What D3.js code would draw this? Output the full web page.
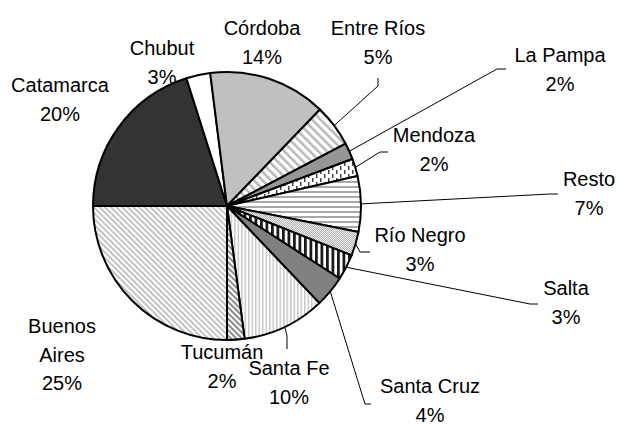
<!DOCTYPE html>
<html>
<head>
<meta charset="utf-8">
<script src="https://cdn.jsdelivr.net/npm/d3@7"></script>
<style>
  html, body { margin: 0; padding: 0; background: #fff; }
  svg text { font-family: "Liberation Sans", Arial, sans-serif; font-size: 20px; fill: #000; }
</style>
</head>
<body>
<div id="chart"></div>
<script>
// provinces, in the order the slices run (clockwise, starting at 6 o'clock)
var categories = ["Buenos Aires", "Catamarca", "Chubut", "Córdoba", "Entre Ríos", "La Pampa",
  "Mendoza", "Resto", "Río Negro", "Salta", "Santa Cruz", "Santa Fe", "Tucumán"];
// share of each slice (%)
var values = [25.0, 20.1, 2.9, 14.2, 5.1, 2.0, 2.1, 6.7, 2.9, 3.1, 3.8, 10.0, 2.1];

var width = 619, height = 425;
var cx = 227, cy = 206, radius = 134;

// fill of each slice (solid or pattern id)
var fills = ["url(#p-ba)", "#333333", "#ffffff", "#c0c0c0", "url(#p-er)", "#969696",
  "url(#p-me)", "url(#p-re)", "url(#p-rn)", "url(#p-sa)", "#808080", "url(#p-sf)", "url(#p-tu)"];

// where each label sits (center x, middle of first line) and its leader line, if any
var labelPos = [
  {x: 62, y: 326, lines: ["Buenos", "Aires"]},
  {x: 60, y: 85},
  {x: 162, y: 48},
  {x: 262, y: 28},
  {x: 378, y: 28, leader: [[378, 86], [378, 78]]},
  {x: 560, y: 55, leader: [[497, 69], [506, 69]]},
  {x: 434, y: 135, leader: [[380, 152], [388, 152]]},
  {x: 589, y: 179, leader: [[550, 194], [558, 194]]},
  {x: 420, y: 235, leader: [[360, 252], [370, 252]]},
  {x: 566, y: 288, leader: [[530, 304], [538, 304]]},
  {x: 430, y: 386, leader: [[365, 404], [371, 404]]},
  {x: 289, y: 368, leader: [[287, 336], [287, 349]]},
  {x: 222, y: 352}
];
var lineStep = 28.5;

var svg = d3.select("#chart").append("svg")
  .attr("width", width)
  .attr("height", height);

var defs = svg.append("defs");

// diagonal / straight stripe pattern
function stripes(id, size, stroke, sw, angle, bg) {
  var p = defs.append("pattern")
    .attr("id", id)
    .attr("patternUnits", "userSpaceOnUse")
    .attr("width", size)
    .attr("height", size)
    .attr("patternTransform", "rotate(" + angle + ")");
  p.append("rect").attr("width", size).attr("height", size).attr("fill", bg || "#fff");
  p.append("rect").attr("x", 0).attr("y", 0).attr("width", sw).attr("height", size).attr("fill", stroke);
}

stripes("p-ba", 4, "#c4c4c4", 2, -45);
stripes("p-tu", 4, "#8c8c8c", 2, -45);
stripes("p-er", 6, "#b8b8b8", 2.5, -45);
stripes("p-re", 5, "#a8a8a8", 2, 90);
stripes("p-sf", 3.5, "#c8c8c8", 1.5, 0);
stripes("p-sa", 5.5, "#1a1a1a", 2.8, 0);

// fine checker for Río Negro
var rn = defs.append("pattern")
  .attr("id", "p-rn")
  .attr("patternUnits", "userSpaceOnUse")
  .attr("width", 2).attr("height", 2);
rn.append("rect").attr("width", 2).attr("height", 2).attr("fill", "#ececec");
rn.append("rect").attr("width", 1).attr("height", 1).attr("fill", "#b4b4b4");
rn.append("rect").attr("x", 1).attr("y", 1).attr("width", 1).attr("height", 1).attr("fill", "#b4b4b4");

// dashed vertical ticks for Mendoza
var me = defs.append("pattern")
  .attr("id", "p-me")
  .attr("patternUnits", "userSpaceOnUse")
  .attr("width", 8).attr("height", 8);
me.append("rect").attr("width", 8).attr("height", 8).attr("fill", "#fff");
me.append("rect").attr("x", 1).attr("y", 0).attr("width", 1.5).attr("height", 4).attr("fill", "#444");
me.append("rect").attr("x", 5).attr("y", 4).attr("width", 1.5).attr("height", 4).attr("fill", "#444");

var data = categories.map(function(c, i) { return {name: c, value: values[i], i: i}; });

var pie = d3.pie()
  .sort(null)
  .value(function(d) { return d.value; })
  .startAngle(Math.PI)
  .endAngle(3 * Math.PI);

var arcs = pie(data);

var arc = d3.arc().innerRadius(0).outerRadius(radius);
var edge = d3.arc().innerRadius(radius).outerRadius(radius);

var g = svg.append("g")
  .attr("transform", "translate(" + cx + "," + cy + ")");

g.selectAll(".slice")
  .data(arcs)
  .enter().append("path")
  .attr("class", "slice")
  .attr("d", arc)
  .attr("fill", function(d) { return fills[d.data.i]; })
  .attr("stroke", "#000")
  .attr("stroke-width", 2)
  .attr("stroke-linejoin", "round");

// leader lines: from the middle of the slice's rim to the label
svg.selectAll(".leader")
  .data(arcs.filter(function(d) { return labelPos[d.data.i].leader; }))
  .enter().append("polyline")
  .attr("class", "leader")
  .attr("fill", "none")
  .attr("stroke", "#000")
  .attr("stroke-width", 1)
  .attr("points", function(d) {
    var c = edge.centroid(d);
    var pts = [[cx + c[0], cy + c[1]]].concat(labelPos[d.data.i].leader);
    return pts.map(function(p) { return p.join(","); }).join(" ");
  });

var pct = function(v) { return Math.round(v) + "%"; };

var labels = svg.selectAll(".label")
  .data(arcs)
  .enter().append("text")
  .attr("class", "label")
  .attr("text-anchor", "middle");

labels.each(function(d) {
  var pos = labelPos[d.data.i];
  var lines = (pos.lines || [d.data.name]).concat([pct(d.data.value)]);
  var t = d3.select(this);
  lines.forEach(function(s, k) {
    t.append("tspan")
      .attr("x", pos.x)
      .attr("y", pos.y + 7 + k * lineStep)
      .text(s);
  });
});
</script>
</body>
</html>
